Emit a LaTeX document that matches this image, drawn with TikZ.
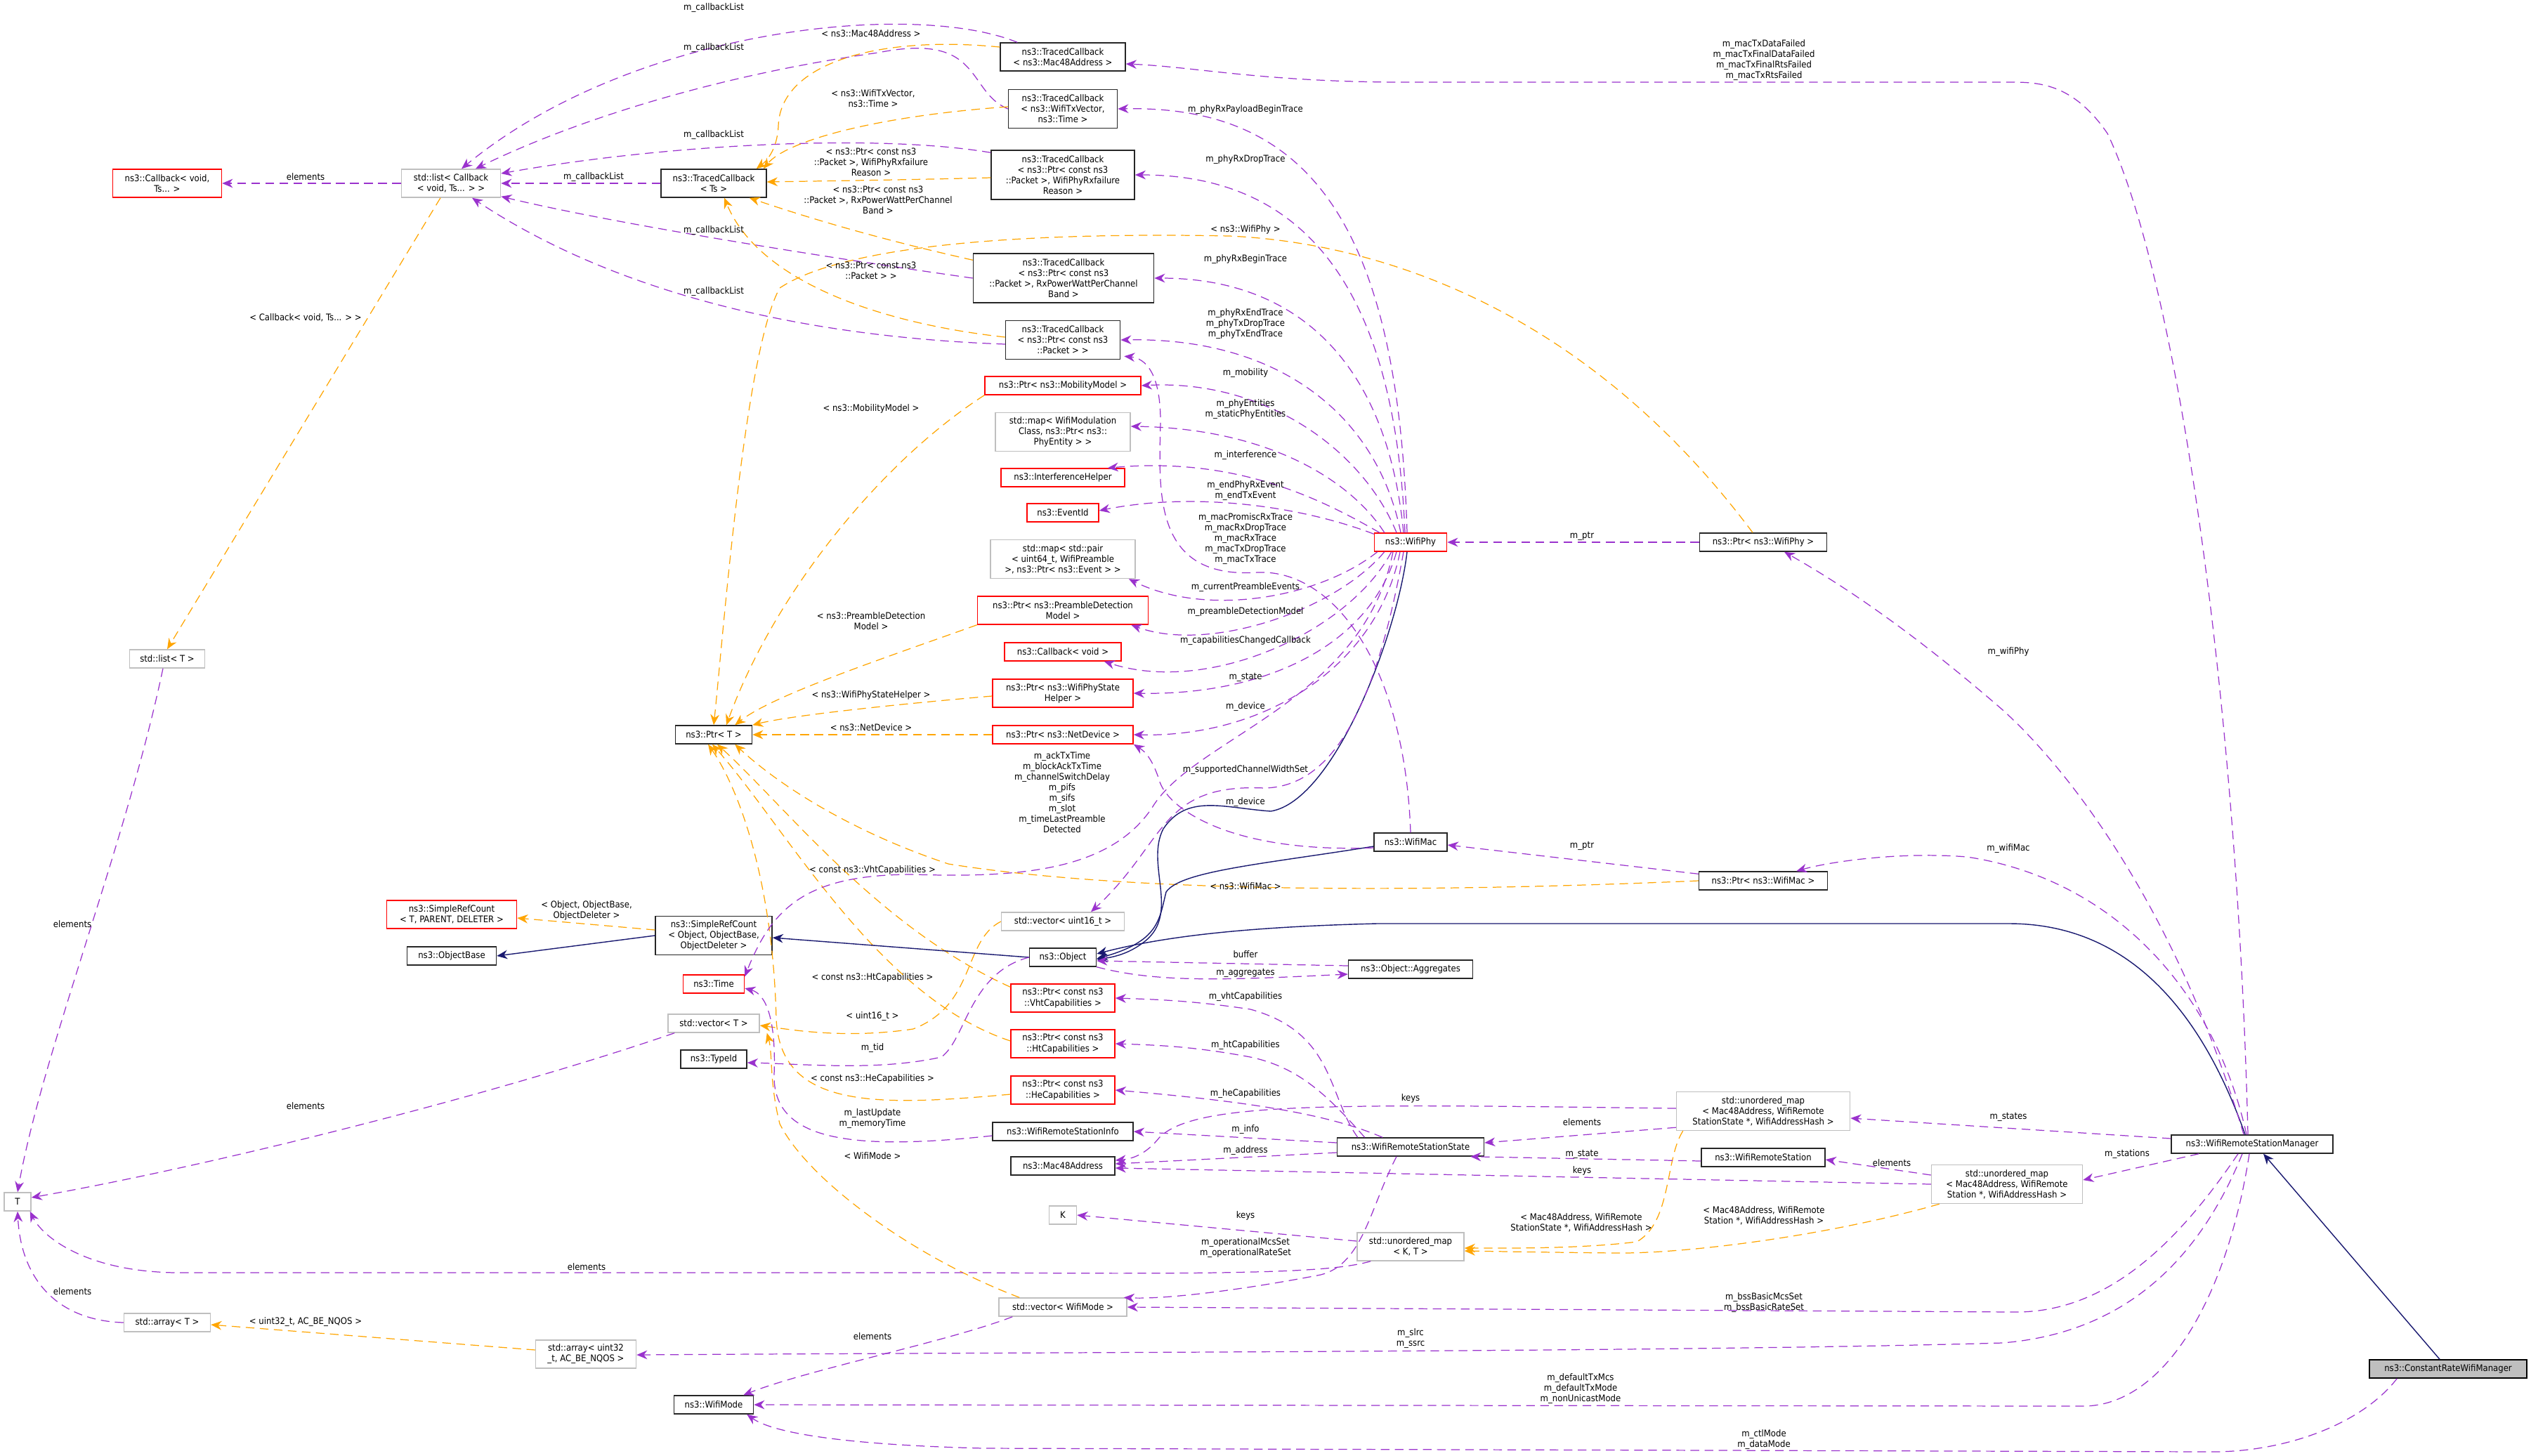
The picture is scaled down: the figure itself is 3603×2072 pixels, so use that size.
\documentclass[tikz,border=0pt]{standalone}
\usepackage{fontspec}
\setmainfont{DejaVu Sans Condensed}
\usetikzlibrary{arrows.meta,calc}
\definecolor{pur}{HTML}{9A32CD}
\definecolor{ora}{HTML}{FFA500}
\definecolor{nav}{HTML}{191970}
\definecolor{gbr}{HTML}{BFBFBF}
\tikzset{
  cls/.style={draw, line width=0.4pt, inner sep=0pt, align=center, font=\fontsize{3.7}{4.27}\selectfont},
  blk/.style={cls, draw=black!85},
  rd/.style={cls, draw=red},
  gy/.style={cls, draw=gbr},
  lbl/.style={inner sep=0pt, align=center, font=\fontsize{3.7}{4.27}\selectfont},
  pe/.style={draw=pur, line width=0.35pt, dash pattern=on 3.5pt off 2.2pt, -{Stealth[length=4.3pt,width=3.6pt]}},
  oe/.style={draw=ora, line width=0.35pt, dash pattern=on 3.5pt off 2.2pt, -{Stealth[length=4.3pt,width=3.6pt]}},
  ie/.style={draw=nav, line width=0.4pt, -{Stealth[length=4.3pt,width=3.6pt]}}
}
\begin{document}
\begin{tikzpicture}[x=0.01cm,y=-0.01cm]
\useasboundingbox (0,0) rectangle (3603,2072);
% nodes
\node[rd, minimum width=1.55cm, minimum height=0.40cm] (cbT) at (238,261) {ns3::Callback< void,\\Ts... >};
\node[gy, minimum width=1.41cm, minimum height=0.40cm] (lcb) at (642,261) {std::list< Callback\\< void, Ts... > >};
\node[blk, minimum width=1.50cm, minimum height=0.40cm] (tcTs) at (1016,261) {ns3::TracedCallback\\< Ts >};
\node[blk, minimum width=1.78cm, minimum height=0.40cm] (tcMac) at (1513,81) {ns3::TracedCallback\\< ns3::Mac48Address >};
\node[blk, minimum width=1.55cm, minimum height=0.55cm] (tcTx) at (1513,155) {ns3::TracedCallback\\< ns3::WifiTxVector,\\ ns3::Time >};
\node[blk, minimum width=2.04cm, minimum height=0.70cm] (tcFail) at (1513,249) {ns3::TracedCallback\\< ns3::Ptr< const ns3\\::Packet >, WifiPhyRxfailure\\Reason >};
\node[blk, minimum width=2.57cm, minimum height=0.70cm] (tcPow) at (1514,396) {ns3::TracedCallback\\< ns3::Ptr< const ns3\\::Packet >, RxPowerWattPerChannel\\Band >};
\node[blk, minimum width=1.63cm, minimum height=0.55cm] (tcPkt) at (1513,484) {ns3::TracedCallback\\< ns3::Ptr< const ns3\\::Packet > >};
\node[rd, minimum width=2.22cm, minimum height=0.26cm] (pMob) at (1513,549) {ns3::Ptr< ns3::MobilityModel >};
\node[gy, minimum width=1.92cm, minimum height=0.55cm] (mMod) at (1513,615) {std::map< WifiModulation\\Class, ns3::Ptr< ns3::\\PhyEntity > >};
\node[rd, minimum width=1.76cm, minimum height=0.26cm] (intH) at (1513,680) {ns3::InterferenceHelper};
\node[rd, minimum width=1.02cm, minimum height=0.26cm] (evId) at (1513,730) {ns3::EventId};
\node[gy, minimum width=2.06cm, minimum height=0.55cm] (mPair) at (1513,796) {std::map< std::pair\\< uint64\_t, WifiPreamble\\ >, ns3::Ptr< ns3::Event > >};
\node[rd, minimum width=2.43cm, minimum height=0.40cm] (pPre) at (1513,869) {ns3::Ptr< ns3::PreambleDetection\\Model >};
\node[rd, minimum width=1.66cm, minimum height=0.26cm] (cbV) at (1513,928) {ns3::Callback< void >};
\node[rd, minimum width=2.00cm, minimum height=0.40cm] (pPhs) at (1513,987) {ns3::Ptr< ns3::WifiPhyState\\Helper >};
\node[rd, minimum width=2.00cm, minimum height=0.26cm] (pNet) at (1513,1046) {ns3::Ptr< ns3::NetDevice >};
\node[rd, minimum width=1.03cm, minimum height=0.26cm] (phy) at (2008,772) {ns3::WifiPhy};
\node[blk, minimum width=1.81cm, minimum height=0.26cm] (pPhy) at (2510,772) {ns3::Ptr< ns3::WifiPhy >};
\node[blk, minimum width=1.04cm, minimum height=0.26cm] (mac) at (2008,1199) {ns3::WifiMac};
\node[blk, minimum width=1.83cm, minimum height=0.26cm] (pMac) at (2510,1254) {ns3::Ptr< ns3::WifiMac >};
\node[gy, minimum width=1.75cm, minimum height=0.26cm] (v16) at (1513,1312) {std::vector< uint16\_t >};
\node[blk, minimum width=0.95cm, minimum height=0.26cm] (obj) at (1513,1363) {ns3::Object};
\node[blk, minimum width=1.77cm, minimum height=0.26cm] (agg) at (2008,1380) {ns3::Object::Aggregates};
\node[rd, minimum width=1.48cm, minimum height=0.40cm] (pVht) at (1513,1421) {ns3::Ptr< const ns3\\::VhtCapabilities >};
\node[rd, minimum width=1.48cm, minimum height=0.40cm] (pHt) at (1513,1486) {ns3::Ptr< const ns3\\::HtCapabilities >};
\node[rd, minimum width=1.48cm, minimum height=0.40cm] (pHe) at (1513,1552) {ns3::Ptr< const ns3\\::HeCapabilities >};
\node[blk, minimum width=2.00cm, minimum height=0.26cm] (wInfo) at (1513,1611) {ns3::WifiRemoteStationInfo};
\node[blk, minimum width=2.09cm, minimum height=0.26cm] (wState) at (2008,1633) {ns3::WifiRemoteStationState};
\node[blk, minimum width=1.48cm, minimum height=0.26cm] (mac48) at (1513,1660) {ns3::Mac48Address};
\node[gy, minimum width=0.39cm, minimum height=0.26cm] (kK) at (1513,1730) {K};
\node[gy, minimum width=1.52cm, minimum height=0.40cm] (umKT) at (2008,1775) {std::unordered\_map\\< K, T >};
\node[gy, minimum width=1.82cm, minimum height=0.26cm] (vMode) at (1513,1861) {std::vector< WifiMode >};
\node[gy, minimum width=1.07cm, minimum height=0.26cm] (listT) at (238,938) {std::list< T >};
\node[blk, minimum width=1.09cm, minimum height=0.26cm] (pT) at (1016,1046) {ns3::Ptr< T >};
\node[rd, minimum width=1.85cm, minimum height=0.40cm] (srcT) at (643,1302) {ns3::SimpleRefCount\\< T, PARENT, DELETER >};
\node[blk, minimum width=1.27cm, minimum height=0.26cm] (oBase) at (643,1361) {ns3::ObjectBase};
\node[blk, minimum width=1.66cm, minimum height=0.55cm] (srcO) at (1016,1332) {ns3::SimpleRefCount\\< Object, ObjectBase,\\ObjectDeleter >};
\node[rd, minimum width=0.87cm, minimum height=0.26cm] (time) at (1016,1401) {ns3::Time};
\node[gy, minimum width=1.30cm, minimum height=0.26cm] (vT) at (1016,1457) {std::vector< T >};
\node[blk, minimum width=0.94cm, minimum height=0.26cm] (tid) at (1016,1508) {ns3::TypeId};
\node[gy, minimum width=0.38cm, minimum height=0.26cm] (tT) at (25,1711) {T};
\node[gy, minimum width=1.23cm, minimum height=0.26cm] (arrT) at (238,1883) {std::array< T >};
\node[gy, minimum width=1.43cm, minimum height=0.40cm] (arr32) at (834,1928) {std::array< uint32\\\_t, AC\_BE\_NQOS >};
\node[blk, minimum width=1.13cm, minimum height=0.26cm] (wMode) at (1016,2000) {ns3::WifiMode};
\node[gy, minimum width=2.47cm, minimum height=0.55cm] (umSt) at (2510,1582) {std::unordered\_map\\< Mac48Address, WifiRemote\\StationState *, WifiAddressHash >};
\node[blk, minimum width=1.76cm, minimum height=0.26cm] (wrs) at (2510,1648) {ns3::WifiRemoteStation};
\node[gy, minimum width=2.15cm, minimum height=0.55cm] (umSn) at (2857,1686) {std::unordered\_map\\< Mac48Address, WifiRemote\\Station *, WifiAddressHash >};
\node[blk, minimum width=2.30cm, minimum height=0.26cm] (wrsm) at (3206,1629) {ns3::WifiRemoteStationManager};
\node[cls, draw=black, fill=gbr, minimum width=2.24cm, minimum height=0.26cm] (crm) at (3485,1949) {ns3::ConstantRateWifiManager};

% ---- callback list edges
\draw[pe] ($(tcMac.north west)+(25,0)$) .. controls (1300,0) and (900,40) .. ($(lcb.north)+(15,0)$);
\draw[pe] (tcTx.west) .. controls (1375,130) and (1400,45) .. (1250,75) .. controls (1000,110) and (800,180) .. ($(lcb.north)+(35,0)$);
\draw[pe] ($(tcFail.north west)+(0,4)$) .. controls (1250,190) and (950,205) .. ($(lcb.east)+(0,-14)$);
\draw[pe] (tcTs.west) -- (lcb.east);
\draw[pe] (tcPow.west) .. controls (1200,370) and (880,320) .. ($(lcb.south east)+(0,-2)$);
\draw[pe] ($(tcPkt.west)+(0,6)$) .. controls (1150,480) and (880,420) .. ($(lcb.south)+(30,0)$);
\draw[pe] (lcb.west) -- (cbT.east);
% orange templates to TracedCallback<Ts>
\draw[oe] ($(tcMac.west)+(0,-14)$) .. controls (1250,50) and (1110,90) .. (1108,180) .. controls (1106,215) and (1090,230) .. ($(tcTs.north east)+(-15,0)$);
\draw[oe] ($(tcTx.west)+(0,-3)$) .. controls (1250,165) and (1120,200) .. ($(tcTs.north east)+(-5,0)$);
\draw[oe] ($(tcFail.west)+(0,4)$) .. controls (1300,256) and (1150,258) .. ($(tcTs.east)+(0,-2)$);
\draw[oe] ($(tcPow.north west)+(0,10)$) .. controls (1250,340) and (1150,310) .. ($(tcTs.south east)+(-25,0)$);
\draw[oe] ($(tcPkt.west)+(0,-4)$) .. controls (1250,460) and (1080,400) .. ($(tcTs.south)+(15,0)$);
\draw[oe] ($(lcb.south)+(-15,0)$) -- (listT.north);
% orange to Ptr<T>
\draw[oe] ($(pPhy.north)+(-15,0)$) .. controls (2250,430) and (1950,345) .. (1750,336) .. controls (1450,330) and (1200,350) .. (1110,410) .. controls (1060,500) and (1030,900) .. ($(pT.north)+(0,0)$);
\draw[oe] (pMob.south west) .. controls (1250,660) and (1100,850) .. ($(pT.north)+(18,0)$);
\draw[oe] (pPre.south west) .. controls (1250,940) and (1100,990) .. ($(pT.north east)+(-25,0)$);
\draw[oe] ($(pPhs.west)+(0,4)$) .. controls (1250,1005) and (1120,1020) .. (pT.north east);
\draw[oe] (pNet.west) -- (pT.east);
\draw[oe] (pMac.west) .. controls (2000,1272) and (1600,1270) .. (1350,1230) .. controls (1200,1180) and (1100,1110) .. ($(pT.south east)+(-25,0)$);
\draw[oe] ($(pVht.north west)+(0,5)$) .. controls (1250,1320) and (1120,1150) .. ($(pT.south)+(5,0)$);
\draw[oe] ($(pHt.west)+(0,-4)$) .. controls (1250,1420) and (1120,1180) .. ($(pT.south)+(-2,0)$);
\draw[oe] ($(pHe.west)+(0,6)$) .. controls (1250,1575) and (1110,1580) .. (1105,1450) .. controls (1100,1250) and (1050,1120) .. ($(pT.south)+(-8,0)$);
\draw[oe] (v16.west) .. controls (1370,1340) and (1390,1430) .. (1300,1465) .. controls (1200,1480) and (1120,1465) .. ($(vT.east)+(0,3)$);
\draw[oe] ($(vMode.north west)+(30,0)$) .. controls (1300,1790) and (1150,1680) .. (1110,1600) .. controls (1095,1540) and (1100,1500) .. ($(vT.south east)+(10,0)$);
\draw[oe] ($(srcO.west)+(0,-8)$) -- ($(srcT.east)+(0,5)$);
\draw[oe] ($(arr32.west)+(0,-6)$) -- ($(arrT.east)+(0,3)$);
\draw[oe] ($(umSt.south west)+(10,0)$) .. controls (2370,1650) and (2380,1740) .. (2330,1768) .. controls (2250,1778) and (2150,1777) .. ($(umKT.east)+(0,2)$);
\draw[oe] ($(umSn.south west)+(12,0)$) .. controls (2600,1760) and (2400,1785) .. (2300,1784) .. controls (2200,1783) and (2150,1782) .. ($(umKT.east)+(0,6)$);
% inheritance
\draw[ie] (srcO.west) -- (oBase.east);
\draw[ie] (obj.west) -- ($(srcO.east)+(0,3)$);
\draw[ie] ($(phy.south)+(-5,0)$) .. controls (1990,900) and (1900,1140) .. (1809,1155) .. controls (1740,1150) and (1690,1130) .. (1656,1180) .. controls (1630,1230) and (1680,1300) .. (1630,1340) .. controls (1610,1356) and (1590,1362) .. ($(obj.east)+(0,3)$);
\draw[ie] ($(mac.west)+(0,6)$) .. controls (1800,1230) and (1680,1240) .. (1660,1270) .. controls (1650,1310) and (1650,1340) .. ($(obj.east)+(0,2)$);
\draw[ie] ($(wrsm.north)+(-10,0)$) .. controls (3120,1400) and (3000,1315) .. (2860,1315) -- (1960,1315) .. controls (1760,1320) and (1650,1335) .. ($(obj.east)+(0,-5)$);
\draw[ie] ($(crm.north)+(-12,0)$) -- ($(wrsm.south)+(16,0)$);
% WifiPhy members
\draw[pe] ($(phy.north)+(-5,0)$) .. controls (1990,300) and (1850,150) .. (tcTx.east);
\draw[pe] ($(phy.north)+(-8,0)$) .. controls (1985,400) and (1850,249) .. (tcFail.east);
\draw[pe] ($(phy.north)+(-10,0)$) .. controls (1975,520) and (1850,396) .. (tcPow.east);
\draw[pe] ($(phy.north)+(-14,0)$) .. controls (1960,590) and (1820,480) .. (tcPkt.east);
\draw[pe] ($(phy.north)+(-20,0)$) .. controls (1940,640) and (1800,540) .. (pMob.east);
\draw[pe] ($(phy.north west)+(15,0)$) .. controls (1920,680) and (1800,610) .. ($(mMod.east)+(0,-8)$);
\draw[pe] ($(phy.north west)+(8,0)$) .. controls (1880,710) and (1760,650) .. ($(intH.north east)+(-25,0)$);
\draw[pe] ($(phy.north west)+(0,2)$) .. controls (1850,720) and (1700,700) .. ($(evId.east)+(0,-3)$);
\draw[pe] ($(phy.south west)+(5,0)$) .. controls (1880,850) and (1720,880) .. ($(mPair.south east)+(-10,0)$);
\draw[pe] ($(phy.south west)+(15,0)$) .. controls (1900,870) and (1720,930) .. ($(pPre.south east)+(-25,0)$);
\draw[pe] ($(phy.south west)+(25,0)$) .. controls (1920,900) and (1720,990) .. ($(cbV.south east)+(-25,0)$);
\draw[pe] ($(phy.south)+(-20,0)$) .. controls (1950,920) and (1800,990) .. (pPhs.east);
\draw[pe] ($(phy.south)+(-15,0)$) .. controls (1960,950) and (1800,1050) .. (pNet.east);
\draw[pe] ($(phy.south)+(-10,0)$) .. controls (1960,1000) and (1900,1120) .. (1800,1122) .. controls (1650,1115) and (1660,1200) .. ($(v16.north)+(40,0)$);
\draw[pe] ($(phy.south)+(-25,0)$) .. controls (1940,1000) and (1700,1050) .. (1640,1150) .. controls (1580,1240) and (1450,1250) .. (1300,1245) .. controls (1150,1245) and (1100,1290) .. ($(time.north east)+(0,3)$);
\draw[pe] (mac.north) .. controls (2000,950) and (1900,810) .. (1790,815) .. controls (1640,825) and (1650,700) .. (1652,600) .. controls (1652,530) and (1630,510) .. ($(tcPkt.south east)+(5,-5)$);
\draw[pe] ($(mac.west)+(0,8)$) .. controls (1750,1215) and (1660,1150) .. (1650,1110) .. controls (1640,1080) and (1630,1070) .. ($(pNet.south east)+(0,0)$);
\draw[pe] (pPhy.west) -- (phy.east);
\draw[pe] ($(pMac.north west)+(0,4)$) -- ($(mac.east)+(0,4)$);
% Object
\draw[pe] ($(agg.west)+(0,-5)$) -- ($(obj.east)+(0,5)$);
\draw[pe] ($(obj.south east)+(0,0)$) .. controls (1650,1400) and (1750,1395) .. ($(agg.west)+(0,7)$);
\draw[pe] (obj.west) .. controls (1380,1385) and (1375,1480) .. (1340,1505) .. controls (1250,1525) and (1150,1515) .. ($(tid.east)+(0,5)$);
% WifiRemoteStationState
\draw[pe] ($(wState.north west)+(30,0)$) .. controls (1890,1560) and (1900,1470) .. (1780,1437) .. controls (1700,1425) and (1650,1423) .. (pVht.east);
\draw[pe] ($(wState.north west)+(40,0)$) .. controls (1890,1560) and (1850,1520) .. (1780,1505) .. controls (1700,1490) and (1650,1488) .. (pHt.east);
\draw[pe] ($(wState.north)+(-40,0)$) .. controls (1900,1590) and (1800,1570) .. (pHe.east);
\draw[pe] ($(wState.west)+(0,-6)$) -- (wInfo.east);
\draw[pe] ($(wState.west)+(0,8)$) -- ($(mac48.east)+(0,-3)$);
\draw[pe] ($(wState.south)+(-20,0)$) .. controls (1950,1720) and (1940,1800) .. (1880,1815) .. controls (1750,1840) and (1650,1850) .. ($(vMode.north east)+(-5,0)$);
\draw[pe] ($(wInfo.west)+(0,6)$) .. controls (1200,1640) and (1100,1620) .. (1102,1530) .. controls (1105,1450) and (1090,1415) .. ($(time.east)+(0,6)$);
% unordered maps
\draw[pe] ($(umKT.west)+(0,-8)$) -- (kK.east);
\draw[pe] ($(umKT.south west)+(20,0)$) .. controls (1900,1810) and (1800,1815) .. (1400,1812) -- (250,1812) .. controls (120,1810) and (60,1760) .. ($(tT.south east)+(-2,0)$);
\draw[pe] ($(umSt.south west)+(0,-5)$) -- ($(wState.east)+(0,-6)$);
\draw[pe] ($(umSt.west)+(0,-4)$) .. controls (1900,1572) and (1700,1568) .. (1650,1620) .. controls (1630,1645) and (1610,1650) .. ($(mac48.east)+(0,-8)$);
\draw[pe] ($(wrs.west)+(0,5)$) -- ($(wState.south east)+(-20,0)$);
\draw[pe] ($(umSn.west)+(0,-13)$) -- ($(wrs.east)+(0,3)$);
\draw[pe] (umSn.west) -- ($(mac48.east)+(0,3)$);
% WifiRemoteStationManager
\draw[pe] ($(wrsm.west)+(0,-8)$) -- ($(umSt.east)+(0,10)$);
\draw[pe] ($(wrsm.south west)+(40,0)$) -- ($(umSn.east)+(0,-6)$);
\draw[pe] ($(wrsm.north)+(-6,0)$) .. controls (3185,1000) and (3100,400) .. (3000,190) .. controls (2950,117) and (2900,117) .. (2860,117) -- (2000,117) .. controls (1800,117) and (1700,95) .. ($(tcMac.east)+(0,10)$);
\draw[pe] ($(wrsm.north)+(-12,0)$) .. controls (3100,1300) and (2950,1100) .. (2850,1010) .. controls (2700,880) and (2600,820) .. ($(pPhy.south)+(30,0)$);
\draw[pe] ($(wrsm.north)+(-8,0)$) .. controls (3150,1400) and (3000,1250) .. (2800,1220) .. controls (2700,1212) and (2600,1228) .. ($(pMac.north east)+(-45,0)$);
\draw[pe] ($(wrsm.south)+(-20,0)$) .. controls (3100,1770) and (3000,1868) .. (2870,1868) -- (vMode.east);
\draw[pe] ($(wrsm.south)+(-14,0)$) .. controls (3120,1820) and (3000,1900) .. (2850,1912) .. controls (2400,1925) and (1500,1925) .. ($(arr32.east)+(0,1)$);
\draw[pe] ($(wrsm.south)+(-4,0)$) .. controls (3170,1850) and (3080,2002) .. (2965,2002) -- (wMode.east);
\draw[pe] ($(crm.south west)+(40,0)$) .. controls (3360,2030) and (3250,2067) .. (3150,2067) -- (1400,2062) .. controls (1200,2057) and (1100,2040) .. ($(wMode.south east)+(-10,0)$);
\draw[pe] ($(vMode.south west)+(20,0)$) .. controls (1350,1910) and (1150,1950) .. ($(wMode.north east)+(-15,0)$);
% to T
\draw[pe] ($(vT.south west)+(10,0)$) .. controls (700,1560) and (300,1660) .. ($(tT.east)+(0,-6)$);
\draw[pe] ($(listT.south)+(-6,0)$) .. controls (180,1200) and (60,1500) .. (tT.north);
\draw[pe] (arrT.west) .. controls (80,1880) and (30,1820) .. (tT.south);
% labels
\node[lbl] (l1) at (1016,11) {m\_callbackList};
\node[lbl] (l2) at (1016,68) {m\_callbackList};
\node[lbl] (l3) at (1016,192) {m\_callbackList};
\node[lbl] (l4) at (845,252) {m\_callbackList};
\node[lbl] (l5) at (1016,328) {m\_callbackList};
\node[lbl] (l6) at (1016,415) {m\_callbackList};
\node[lbl] (l7) at (435,252) {elements};
\node[lbl] (l8) at (1240,48) {< ns3::Mac48Address >};
\node[lbl] (l9) at (1243,140) {< ns3::WifiTxVector,\\ns3::Time >};
\node[lbl] (l10) at (1240,231) {< ns3::Ptr< const ns3\\::Packet >, WifiPhyRxfailure\\Reason >};
\node[lbl] (l11) at (1250,285) {< ns3::Ptr< const ns3\\::Packet >, RxPowerWattPerChannel\\Band >};
\node[lbl] (l12) at (1240,385) {< ns3::Ptr< const ns3\\::Packet > >};
\node[lbl] (l13) at (435,452) {< Callback< void, Ts... > >};
\node[lbl] (l14) at (1240,582) {< ns3::MobilityModel >};
\node[lbl] (l15) at (1240,884) {< ns3::PreambleDetection\\Model >};
\node[lbl] (l16) at (1240,990) {< ns3::WifiPhyStateHelper >};
\node[lbl] (l17) at (1240,1036) {< ns3::NetDevice >};
\node[lbl] (l18) at (1773,327) {< ns3::WifiPhy >};
\node[lbl] (l19) at (1773,156) {m\_phyRxPayloadBeginTrace};
\node[lbl] (l20) at (1773,227) {m\_phyRxDropTrace};
\node[lbl] (l21) at (1773,369) {m\_phyRxBeginTrace};
\node[lbl] (l22) at (1773,461) {m\_phyRxEndTrace\\m\_phyTxDropTrace\\m\_phyTxEndTrace};
\node[lbl] (l23) at (1773,531) {m\_mobility};
\node[lbl] (l24) at (1773,583) {m\_phyEntities\\m\_staticPhyEntities};
\node[lbl] (l25) at (1773,648) {m\_interference};
\node[lbl] (l26) at (1773,699) {m\_endPhyRxEvent\\m\_endTxEvent};
\node[lbl] (l27) at (1773,767) {m\_macPromiscRxTrace\\m\_macRxDropTrace\\m\_macRxTrace\\m\_macTxDropTrace\\m\_macTxTrace};
\node[lbl] (l28) at (1773,836) {m\_currentPreambleEvents};
\node[lbl] (l29) at (1773,871) {m\_preambleDetectionModel};
\node[lbl] (l30) at (1773,912) {m\_capabilitiesChangedCallback};
\node[lbl] (l31) at (1773,964) {m\_state};
\node[lbl] (l32) at (1773,1006) {m\_device};
\node[lbl] (l33) at (1512,1128) {m\_ackTxTime\\m\_blockAckTxTime\\m\_channelSwitchDelay\\m\_pifs\\m\_sifs\\m\_slot\\m\_timeLastPreamble\\Detected};
\node[lbl] (l34) at (1773,1096) {m\_supportedChannelWidthSet};
\node[lbl] (l35) at (1773,1142) {m\_device};
\node[lbl] (l36) at (2252,763) {m\_ptr};
\node[lbl] (l37) at (2252,1204) {m\_ptr};
\node[lbl] (l38) at (1773,1262) {< ns3::WifiMac >};
\node[lbl] (l39) at (835,1296) {< Object, ObjectBase,\\ObjectDeleter >};
\node[lbl] (l40) at (1242,1239) {< const ns3::VhtCapabilities >};
\node[lbl] (l41) at (1242,1392) {< const ns3::HtCapabilities >};
\node[lbl] (l42) at (1242,1447) {< uint16\_t >};
\node[lbl] (l43) at (1242,1492) {m\_tid};
\node[lbl] (l44) at (1242,1536) {< const ns3::HeCapabilities >};
\node[lbl] (l45) at (1242,1593) {m\_lastUpdate\\m\_memoryTime};
\node[lbl] (l46) at (1242,1646) {< WifiMode >};
\node[lbl] (l47) at (435,1575) {elements};
\node[lbl] (l48) at (103,1316) {elements};
\node[lbl] (l49) at (835,1804) {elements};
\node[lbl] (l50) at (103,1839) {elements};
\node[lbl] (l51) at (435,1882) {< uint32\_t, AC\_BE\_NQOS >};
\node[lbl] (l52) at (1242,1903) {elements};
\node[lbl] (l53) at (1773,1359) {buffer};
\node[lbl] (l54) at (1773,1385) {m\_aggregates};
\node[lbl] (l55) at (1773,1419) {m\_vhtCapabilities};
\node[lbl] (l56) at (1773,1488) {m\_htCapabilities};
\node[lbl] (l57) at (1773,1557) {m\_heCapabilities};
\node[lbl] (l58) at (2008,1564) {keys};
\node[lbl] (l59) at (1773,1608) {m\_info};
\node[lbl] (l60) at (1773,1638) {m\_address};
\node[lbl] (l61) at (1773,1731) {keys};
\node[lbl] (l62) at (1773,1777) {m\_operationalMcsSet\\m\_operationalRateSet};
\node[lbl] (l63) at (2008,1906) {m\_slrc\\m\_ssrc};
\node[lbl] (l64) at (2511,86) {m\_macTxDataFailed\\m\_macTxFinalDataFailed\\m\_macTxFinalRtsFailed\\m\_macTxRtsFailed};
\node[lbl] (l65) at (2859,928) {m\_wifiPhy};
\node[lbl] (l66) at (2859,1208) {m\_wifiMac};
\node[lbl] (l67) at (2252,1598) {elements};
\node[lbl] (l68) at (2252,1643) {m\_state};
\node[lbl] (l69) at (2252,1667) {keys};
\node[lbl] (l70) at (2251,1741) {< Mac48Address, WifiRemote\\StationState *, WifiAddressHash >};
\node[lbl] (l71) at (2511,1731) {< Mac48Address, WifiRemote\\Station *, WifiAddressHash >};
\node[lbl] (l72) at (2859,1590) {m\_states};
\node[lbl] (l73) at (3028,1643) {m\_stations};
\node[lbl] (l74) at (2693,1656) {elements};
\node[lbl] (l75) at (2511,1855) {m\_bssBasicMcsSet\\m\_bssBasicRateSet};
\node[lbl] (l76) at (2250,1977) {m\_defaultTxMcs\\m\_defaultTxMode\\m\_nonUnicastMode};
\node[lbl] (l77) at (2511,2050) {m\_ctlMode\\m\_dataMode};
\end{tikzpicture}
\end{document}
